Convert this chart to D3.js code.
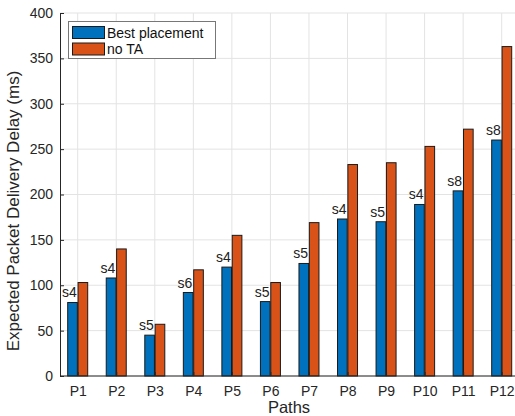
<!DOCTYPE html>
<html>
<head>
<meta charset="utf-8">
<script src="https://cdn.jsdelivr.net/npm/d3@7"></script>
<style>
    body { margin: 0; background: #fff; }
    svg { display: block; font-family: "Liberation Sans", Arial, Helvetica, sans-serif; }
</style>
</head>
<body>
<svg id="chart" width="515" height="416"></svg>
<script>
var paths = ['P1', 'P2', 'P3', 'P4', 'P5', 'P6', 'P7', 'P8', 'P9', 'P10', 'P11', 'P12'];
var bestPlacement = [81, 108, 45, 92, 120, 82, 124, 173, 170, 189, 204, 260];
var noTA = [103, 140, 57, 117, 155, 103, 169, 233, 235, 253, 272, 363];
var placementLabels = ['s4', 's4', 's5', 's6', 's4', 's5', 's5', 's4', 's5', 's4', 's8', 's8'];
var yTicks = [0, 50, 100, 150, 200, 250, 300, 350, 400];
var seriesNames = ['Best placement', 'no TA'];
var seriesColors = ['#0072BD', '#D95319'];

var svg = d3.select('#chart');
var plotLeft = 60, plotTop = 13, plotBottom = 376, plotRight = 515;

var x = d3.scalePoint().domain(paths).range([77.7, 501.7]);
var y = d3.scaleLinear().domain([0, 400]).range([plotBottom, plotTop]);
// offset of each series inside a group
var inner = d3.scaleBand().domain([0, 1]).range([-10, 10]).paddingInner(0.07);

//grid lines
var grid = svg.append('g').attr('class', 'grid');
grid.selectAll('line.h').data(yTicks).enter().append('line')
    .attr('x1', plotLeft).attr('x2', plotRight)
    .attr('y1', function (d) { return y(d); }).attr('y2', function (d) { return y(d); })
    .attr('stroke', '#e3e3e3').attr('stroke-width', 1);
grid.selectAll('line.v').data(paths).enter().append('line')
    .attr('x1', function (d) { return x(d); }).attr('x2', function (d) { return x(d); })
    .attr('y1', plotTop).attr('y2', plotBottom)
    .attr('stroke', '#e3e3e3').attr('stroke-width', 1);

//bars
var series = [bestPlacement, noTA];
series.forEach(function (vals, s) {
    svg.append('g').selectAll('rect').data(vals).enter().append('rect')
        .attr('x', function (d, i) { return x(paths[i]) + inner(s); })
        .attr('width', inner.bandwidth())
        .attr('y', function (d) { return y(d); })
        .attr('height', function (d) { return y(0) - y(d); })
        .attr('fill', seriesColors[s])
        .attr('stroke', '#1a1a1a').attr('stroke-width', 1);
});

//placement labels above blue bars
svg.append('g').selectAll('text').data(bestPlacement).enter().append('text')
    .attr('x', function (d, i) { return x(paths[i]) - 1; })
    .attr('y', function (d) { return y(d) - 5; })
    .attr('text-anchor', 'end')
    .attr('font-size', 14).attr('fill', '#222')
    .text(function (d, i) { return placementLabels[i]; });

//axes
var yAxis = d3.axisLeft(y).tickValues(yTicks).tickSizeInner(-4).tickSizeOuter(0).tickPadding(7);
var gy = svg.append('g').attr('transform', 'translate(' + plotLeft + ',0)').call(yAxis);
var xAxis = d3.axisBottom(x).tickSizeInner(-4).tickSizeOuter(0).tickPadding(10);
var gx = svg.append('g').attr('transform', 'translate(0,' + plotBottom + ')').call(xAxis);
gx.select('.domain').attr('d', 'M' + plotLeft + ',0H' + plotRight);
[gx, gy].forEach(function (g) {
    g.select('.domain').attr('stroke', '#262626');
    g.selectAll('.tick line').attr('stroke', '#262626');
    g.selectAll('.tick text').attr('font-size', 14).attr('fill', '#262626')
        .attr('font-family', '"Liberation Sans", Arial, sans-serif');
});

svg.append('text')
    .attr('transform', 'translate(19,211) rotate(-90)')
    .attr('text-anchor', 'middle').attr('font-size', 17).attr('fill', '#262626')
    .text('Expected Packet Delivery Delay (ms)');
svg.append('text')
    .attr('x', 289).attr('y', 413)
    .attr('text-anchor', 'middle').attr('font-size', 16.5).attr('fill', '#262626')
    .text('Paths');

//legend
var legend = svg.append('g').attr('class', 'legend');
legend.append('rect')
    .attr('x', 68.5).attr('y', 21.5).attr('width', 147).attr('height', 37)
    .attr('fill', '#fff').attr('stroke', '#777').attr('stroke-width', 1);
seriesNames.forEach(function (name, i) {
    legend.append('rect')
        .attr('x', 72.5).attr('y', 26.5 + i * 16.5).attr('width', 32).attr('height', 12)
        .attr('fill', seriesColors[i]).attr('stroke', '#1a1a1a');
    legend.append('text')
        .attr('x', 107).attr('y', 37.5 + i * 16.5)
        .attr('font-size', 14).attr('fill', '#111')
        .text(name);
});
</script>
</body>
</html>
